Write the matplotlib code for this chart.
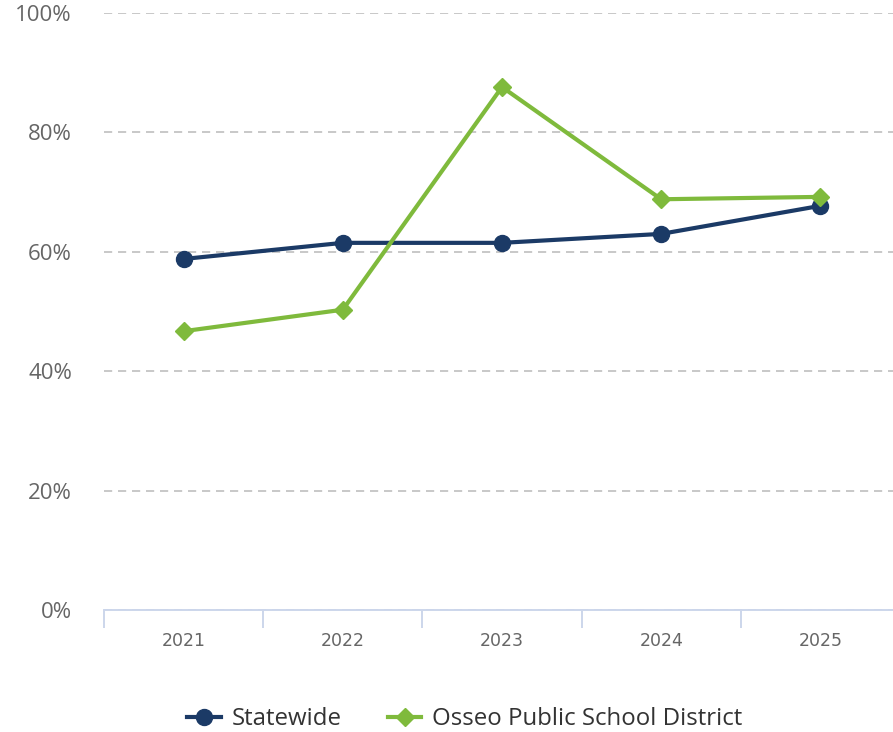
import matplotlib.pyplot as plt
from matplotlib.ticker import FixedLocator, FuncFormatter

years = ["2021", "2022", "2023", "2024", "2025"]
statewide = [58.8, 61.5, 61.5, 63.0, 67.7]
osseo = [46.7, 50.3, 87.6, 68.8, 69.2]
y_ticks = [0, 20, 40, 60, 80, 100]

NAVY = "#1b3a66"
GREEN = "#7fba3c"
AXIS = "#ccd6eb"
GRID = "#c8c8c8"

plt.rcParams["font.family"] = ["Open Sans", "DejaVu Sans"]

fig = plt.figure(figsize=(8.93, 7.32), dpi=100)
ax = fig.add_axes([104 / 893, 1 - 610 / 732, 796 / 893, 597 / 732])

x = list(range(len(years)))
ax.plot(x, statewide, color=NAVY, lw=3, marker="o", ms=11.5,
        label="Statewide", zorder=3, clip_on=False)
ax.plot(x, osseo, color=GREEN, lw=3, marker="D", ms=9.5,
        label="Osseo Public School District", zorder=4, clip_on=False)

ax.set_xlim(-0.5, len(years) - 0.5)
ax.set_ylim(0, 100)

# y axis: percent labels, dashed grid, no spine
ax.set_yticks(y_ticks)
ax.yaxis.set_major_formatter(FuncFormatter(lambda v, _: f"{v:.0f}%"))
ax.tick_params(axis="y", length=0, pad=23, labelsize=16, labelcolor="#666666")
ax.grid(axis="y", color=GRID, lw=1.4, linestyle=(0, (4.2, 3.0)))
ax.set_axisbelow(True)

# x axis: band boundaries get ticks, labels sit in the band centers
ax.xaxis.set_major_locator(FixedLocator([i - 0.5 for i in range(len(years) + 1)]))
ax.xaxis.set_major_formatter(FuncFormatter(lambda v, _: ""))
ax.xaxis.set_minor_locator(FixedLocator(x))
ax.set_xticks(x, years, minor=True)
ax.tick_params(axis="x", which="major", length=13, width=1.4, color=AXIS)
ax.tick_params(axis="x", which="minor", length=0, pad=16, labelsize=12.5,
               labelcolor="#666666")
for lbl in ax.get_xticklabels(minor=True):
    lbl.set_fontfamily("DejaVu Sans")

for side in ("top", "right", "left"):
    ax.spines[side].set_visible(False)
ax.spines["bottom"].set_color(AXIS)
ax.spines["bottom"].set_linewidth(1.4)

fig.legend(loc="center", bbox_to_anchor=(465 / 893, 1 - 719 / 732), ncol=2,
           frameon=False, fontsize=17.3, handlelength=1.4, columnspacing=1.9,
           handletextpad=0.46, labelcolor="#333333")

fig.savefig("out.png", dpi=100)
